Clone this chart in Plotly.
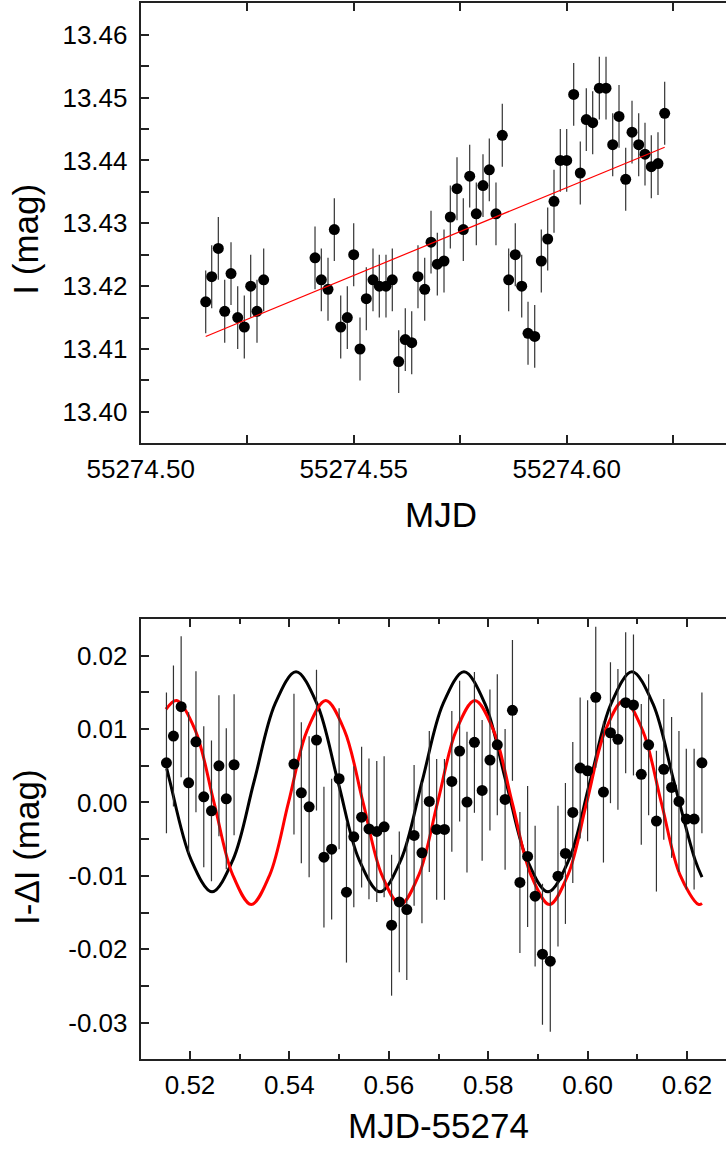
import plotly.graph_objects as go

# ---------------- data ----------------
mjd = [55274 + v for v in [
    .51526, .51667, .51822, .51972, .52120, .52277, .52432, .52582, .52730, .52887,
    .54092, .54240, .54397, .54545, .54695, .54850, .55000, .55148, .55296, .55453,
    .55601, .55758, .55906, .56056, .56211, .56362, .56509, .56667,
    .56815, .56963, .57120, .57268, .57425, .57573, .57723, .57878, .58035, .58183,
    .58340, .58488, .58638, .58793, .58944, .59092, .59249, .59404, .59554, .59702,
    .59850, .60000, .60164, .60319, .60460, .60610, .60766, .60923, .61080, .61228,
    .61385, .61533, .61690, .61838, .61986, .62143, .62300]]

i_mag = [
    13.4175, 13.4215, 13.4260, 13.4160, 13.4220, 13.4150, 13.4135, 13.4200, 13.4160, 13.4210,
    13.4245, 13.4210, 13.4195, 13.4290, 13.4135, 13.4150, 13.4250, 13.4100, 13.4180, 13.4210,
    13.4200, 13.4200, 13.4210, 13.4080, 13.4115, 13.4110, 13.4215, 13.4195,
    13.4270, 13.4235, 13.4240, 13.4310, 13.4355, 13.4290, 13.4375, 13.4315, 13.4360, 13.4385,
    13.4315, 13.4440, 13.4210, 13.4250, 13.4200, 13.4125, 13.4120, 13.4240, 13.4275, 13.4335,
    13.4400, 13.4400, 13.4505, 13.4380, 13.4465, 13.4460, 13.4515, 13.4515, 13.4425, 13.4470,
    13.4370, 13.4445, 13.4425, 13.4410, 13.4390, 13.4395, 13.4475]
I_ERR = 0.005

trend_x = [55274.51526, 55274.62300]
trend_y = [13.4120, 13.4421]

resid = [
    .00540, .00905, .01305, .00268, .00827, .00077, -.00114, .00500, .00050, .00514,
    .00523, .00132, -.00059, .00850, -.00745, -.00636, .00323, -.01222, -.00468, -.00200,
    -.00360, -.00395, -.00332, -.01673, -.01355, -.01459, -.00449, -.00686,
    .00014, -.00367, -.00367, .00287, .00700, .00005, .00819, .00164, .00578, .00786,
    .00042, .01255, -.01090, -.00736, -.01277, -.02068, -.02163, -.01004, -.00695, -.00136,
    .00469, .00432, .01433, .00141, .00950, .00860, .01359, .01328, .00383, .00786,
    -.00254, .00451, .00205, .00014, -.00227, -.00227, .00540]
R_ERR = 0.0096

# black model curve
black_x = [.51531, .51598, .52021, .52443, .52866, .53288, .53711, .54133, .54556, .54978,
           .55401, .55823, .56246, .56668, .57091, .57513, .57936, .58358, .58781, .59203,
           .59626, .60048, .60471, .60893, .61316, .61738, .62161, .62302]
black_y = [.00465, .00282, -.00779, -.01218, -.00779, .00282, .01343, .01782, .01343, .00282,
           -.00779, -.01218, -.00779, .00282, .01343, .01782, .01343, .00282, -.00779, -.01218,
           -.00779, .00282, .01343, .01782, .01343, .00282, -.00779, -.01018]

# red model curve
red_x = [.51517, .51732, .52107, .52482, .52857, .53232, .53607, .53982, .54357, .54732,
         .55107, .55482, .55857, .56232, .56607, .56982, .57357, .57732, .58107, .58482,
         .58857, .59232, .59607, .59982, .60357, .60732, .61107, .61482, .61857, .62232, .62302]
red_y = [.01270, .01390, .00983, .00000, -.00983, -.01390, -.00983, .00000, .00983, .01390,
         .00983, .00000, -.00983, -.01390, -.00983, .00000, .00983, .01390, .00983, .00000,
         -.00983, -.01390, -.00983, .00000, .00983, .01390, .00983, .00000, -.00983, -.01390, -.01375]

top_xticks = [55274.50, 55274.55, 55274.60]
top_xtext = ["55274.50", "55274.55", "55274.60"]
top_yticks = [13.40, 13.41, 13.42, 13.43, 13.44, 13.45, 13.46]
top_ytext = ["13.40", "13.41", "13.42", "13.43", "13.44", "13.45", "13.46"]
bot_xticks = [0.52, 0.54, 0.56, 0.58, 0.60, 0.62]
bot_xtext = ["0.52", "0.54", "0.56", "0.58", "0.60", "0.62"]
bot_yticks = [-0.03, -0.02, -0.01, 0.00, 0.01, 0.02]
bot_ytext = ["-0.03", "-0.02", "-0.01", "0.00", "0.01", "0.02"]

# ---------------- layout geometry ----------------
W, H = 726, 1149
FONT = "Liberation Sans, Arial, sans-serif"
TICKF = 26
TITLEF = 35
LEFT = 140.7
top_px = (3.3, 443.3)
bot_px = (619.0, 1059.3)

def ydom(p):
    return [1 - p[1] / H, 1 - p[0] / H]

x_dom = [LEFT / W, 1.0]
x_rng_top = [55274.5, 55274.5 + (W - LEFT) / 4260]
x_rng_bot = [0.52 - (190 - LEFT) / 4970, 0.52 + (W - 190) / 4970]

fig = go.Figure()

# top panel
fig.add_trace(go.Scatter(
    x=mjd, y=i_mag, mode="markers", xaxis="x", yaxis="y",
    marker=dict(color="black", size=11),
    error_y=dict(type="constant", value=I_ERR, color="#333", thickness=1.2, width=0),
    showlegend=False))
fig.add_trace(go.Scatter(
    x=trend_x, y=trend_y, mode="lines", xaxis="x", yaxis="y",
    line=dict(color="red", width=1.2), showlegend=False))

# bottom panel
bx = [t - 55274 for t in mjd]
fig.add_trace(go.Scatter(
    x=black_x, y=black_y, mode="lines", xaxis="x2", yaxis="y2",
    line=dict(color="black", width=3, shape="spline", smoothing=1.0), showlegend=False))
fig.add_trace(go.Scatter(
    x=red_x, y=red_y, mode="lines", xaxis="x2", yaxis="y2",
    line=dict(color="red", width=3, shape="spline", smoothing=1.0), showlegend=False))
fig.add_trace(go.Scatter(
    x=bx, y=resid, mode="markers", xaxis="x2", yaxis="y2",
    marker=dict(color="black", size=11),
    error_y=dict(type="constant", value=R_ERR, color="#333", thickness=1.2, width=0),
    showlegend=False))

axis_common = dict(
    showgrid=False, zeroline=False, showline=True, linecolor="#222", linewidth=2,
    ticks="inside", ticklen=8, tickwidth=1.5, tickcolor="#222",
    tickfont=dict(family=FONT, size=TICKF, color="black"), automargin=False,
)

fig.update_layout(
    width=W, height=H, margin=dict(l=0, r=0, t=0, b=0),
    paper_bgcolor="white", plot_bgcolor="white",
    xaxis=dict(domain=x_dom, anchor="y", range=x_rng_top, mirror="ticks",
               tickmode="array", tickvals=top_xticks, ticktext=top_xtext,
               ticklabelstandoff=1,
               minor=dict(tickmode="linear", tick0=55274.5, dtick=0.025, ticks="inside",
                          ticklen=8, tickwidth=1.5, tickcolor="#222", showgrid=False),
               **axis_common),
    yaxis=dict(domain=ydom(top_px), anchor="x", range=[13.395, 13.465],
               tickmode="array", tickvals=top_yticks, ticktext=top_ytext,
               ticklabelstandoff=6,
               minor=dict(tickmode="linear", tick0=13.40, dtick=0.005, ticks="inside",
                          ticklen=8, tickwidth=1.5, tickcolor="#222", showgrid=False),
               **axis_common),
    xaxis2=dict(domain=x_dom, anchor="y2", range=x_rng_bot, mirror="ticks",
                tickmode="array", tickvals=bot_xticks, ticktext=bot_xtext,
                ticklabelstandoff=1,
                minor=dict(tickmode="linear", tick0=0.51, dtick=0.01, ticks="inside",
                           ticklen=5, tickwidth=1.5, tickcolor="#222", showgrid=False),
                **axis_common),
    yaxis2=dict(domain=ydom(bot_px), anchor="x2", range=[-0.035, 0.025],
                tickmode="array", tickvals=bot_yticks, ticktext=bot_ytext,
                ticklabelstandoff=6,
                minor=dict(tickmode="linear", tick0=0.0, dtick=0.005, ticks="inside",
                           ticklen=8, tickwidth=1.5, tickcolor="#222", showgrid=False),
                **axis_common),
)

def ann(text, xpx, ypx, angle=0):
    fig.add_annotation(text=text, x=xpx / W, y=1 - ypx / H, xref="paper", yref="paper",
                       showarrow=False, textangle=angle, xanchor="center", yanchor="middle",
                       font=dict(family=FONT, size=TITLEF, color="black"))

ann("MJD", 440.8, 514.7)
ann("MJD-55274", 439, 1125)
ann("I (mag)", 26, 239.7, -90)
ann("I-ΔI (mag)", 26, 847, -90)

fig.write_html("out.html")
